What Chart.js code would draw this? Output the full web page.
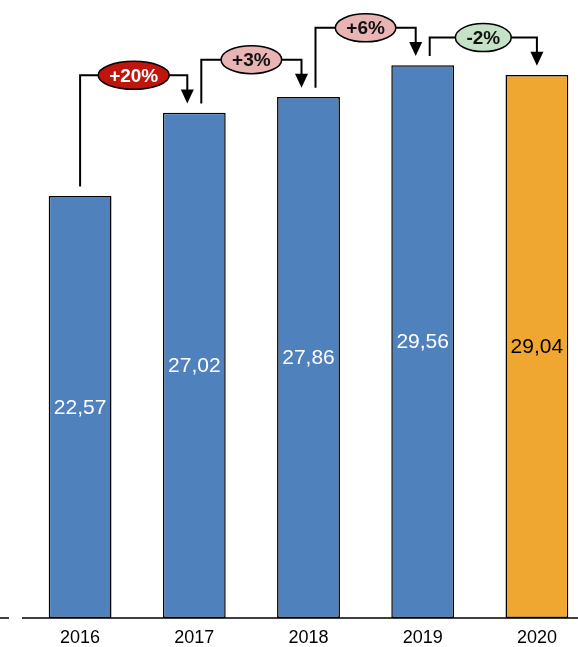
<!DOCTYPE html>
<html>
<head>
<meta charset="utf-8">
<script src="https://cdn.jsdelivr.net/npm/chart.js@4"></script>
<style>
  html, body { margin: 0; padding: 0; background: #fff; overflow: hidden; }
  #wrap { width: 595px; height: 647px; }
</style>
</head>
<body>
<div id="wrap"><canvas id="chart" width="595" height="647"></canvas></div>
<script>
// data
const years = ['2016', '2017', '2018', '2019', '2020'];
const values = [22.57, 27.02, 27.86, 29.56, 29.04];
const deltaLabels = ['+20%', '+3%', '+6%', '-2%'];

// styles
const barColors = ['#4f81bd', '#4f81bd', '#4f81bd', '#4f81bd', '#f0a732'];
const barLabelColors = ['#fff', '#fff', '#fff', '#fff', '#000'];
const bubbleFill = ['#c0150c', '#e8b4b4', '#e8b4b4', '#c6e2c6'];
const bubbleText = ['#fff', '#111', '#111', '#111'];

function fmt(v) {
    return v.toFixed(2).replace('.', ',');
}

// axis line + small dash on the left
const axisLine = {
    id: 'axisLine',
    afterDatasetsDraw(chart) {
        const ctx = chart.ctx;
        const y = chart.chartArea.bottom;
        ctx.save();
        ctx.strokeStyle = '#000';
        ctx.lineWidth = 1.5;
        ctx.beginPath();
        ctx.moveTo(0, y); ctx.lineTo(9, y);
        ctx.moveTo(22, y); ctx.lineTo(chart.width, y);
        ctx.stroke();
        ctx.restore();
    }
};

// value labels in the middle of each bar
const barLabels = {
    id: 'barLabels',
    afterDatasetsDraw(chart) {
        const ctx = chart.ctx;
        const meta = chart.getDatasetMeta(0);
        ctx.save();
        ctx.font = '21px "Liberation Sans", Arial, sans-serif';
        ctx.textAlign = 'center';
        ctx.textBaseline = 'middle';
        meta.data.forEach((bar, i) => {
            ctx.fillStyle = barLabelColors[i];
            ctx.fillText(fmt(values[i]), bar.x, (bar.y + bar.base) / 2 + 1);
        });
        ctx.restore();
    }
};

// arrows between bars with the change in an ellipse
const deltaArrows = {
    id: 'deltaArrows',
    afterDatasetsDraw(chart) {
        const ctx = chart.ctx;
        const yScale = chart.scales.y;
        const meta = chart.getDatasetMeta(0);
        const last = values.length - 1;
        ctx.save();
        ctx.font = 'bold 19px "Liberation Sans", Arial, sans-serif';
        for (let i = 0; i < last; i++) {
            const a = meta.data[i], b = meta.data[i + 1];
            const xOut = i === 0 ? a.x : a.x + 7;
            const xIn = (i + 1) === last ? b.x : b.x - 7;
            const yStart = yScale.getPixelForValue(values[i] + 0.5);
            const yLevel = yScale.getPixelForValue(values[i + 1] + 2);
            const yTip = yScale.getPixelForValue(values[i + 1] + 0.5);
            const headH = 14, headW = 13;

            ctx.strokeStyle = '#000';
            ctx.lineWidth = 2;
            ctx.beginPath();
            ctx.moveTo(xOut, yStart);
            ctx.lineTo(xOut, yLevel);
            ctx.lineTo(xIn, yLevel);
            ctx.lineTo(xIn, yTip - headH + 1);
            ctx.stroke();

            ctx.fillStyle = '#000';
            ctx.beginPath();
            ctx.moveTo(xIn - headW / 2, yTip - headH);
            ctx.lineTo(xIn + headW / 2, yTip - headH);
            ctx.lineTo(xIn, yTip);
            ctx.closePath();
            ctx.fill();

            const cx = (xOut + xIn) / 2;
            const tw = ctx.measureText(deltaLabels[i]).width;
            const rx = (tw + 22) / 2, ry = 14;
            ctx.beginPath();
            ctx.ellipse(cx, yLevel, rx, ry, 0, 0, Math.PI * 2);
            ctx.fillStyle = bubbleFill[i];
            ctx.fill();
            ctx.lineWidth = 1.5;
            ctx.stroke();

            ctx.fillStyle = bubbleText[i];
            ctx.textAlign = 'center';
            ctx.textBaseline = 'middle';
            ctx.fillText(deltaLabels[i], cx, yLevel + 1);
        }
        ctx.restore();
    }
};

new Chart(document.getElementById('chart'), {
    type: 'bar',
    data: {
        labels: years,
        datasets: [{
            data: values,
            backgroundColor: barColors,
            borderColor: '#000',
            borderWidth: 1.5,
            borderSkipped: false,
            barPercentage: 0.55,
            categoryPercentage: 1
        }]
    },
    options: {
        responsive: false,
        animation: false,
        layout: { padding: { left: 23, right: 1, top: 0, bottom: 0 } },
        plugins: {
            legend: { display: false },
            tooltip: { enabled: false }
        },
        scales: {
            x: {
                grid: { display: false, drawTicks: false },
                border: { display: false },
                ticks: {
                    color: '#000',
                    padding: 9,
                    font: { family: '"Liberation Sans", Arial, sans-serif', size: 18 }
                },
                afterFit(scale) { scale.height = 29; }
            },
            y: {
                display: false,
                min: 0,
                max: 33.05
            }
        }
    },
    plugins: [axisLine, barLabels, deltaArrows]
});
</script>
</body>
</html>
